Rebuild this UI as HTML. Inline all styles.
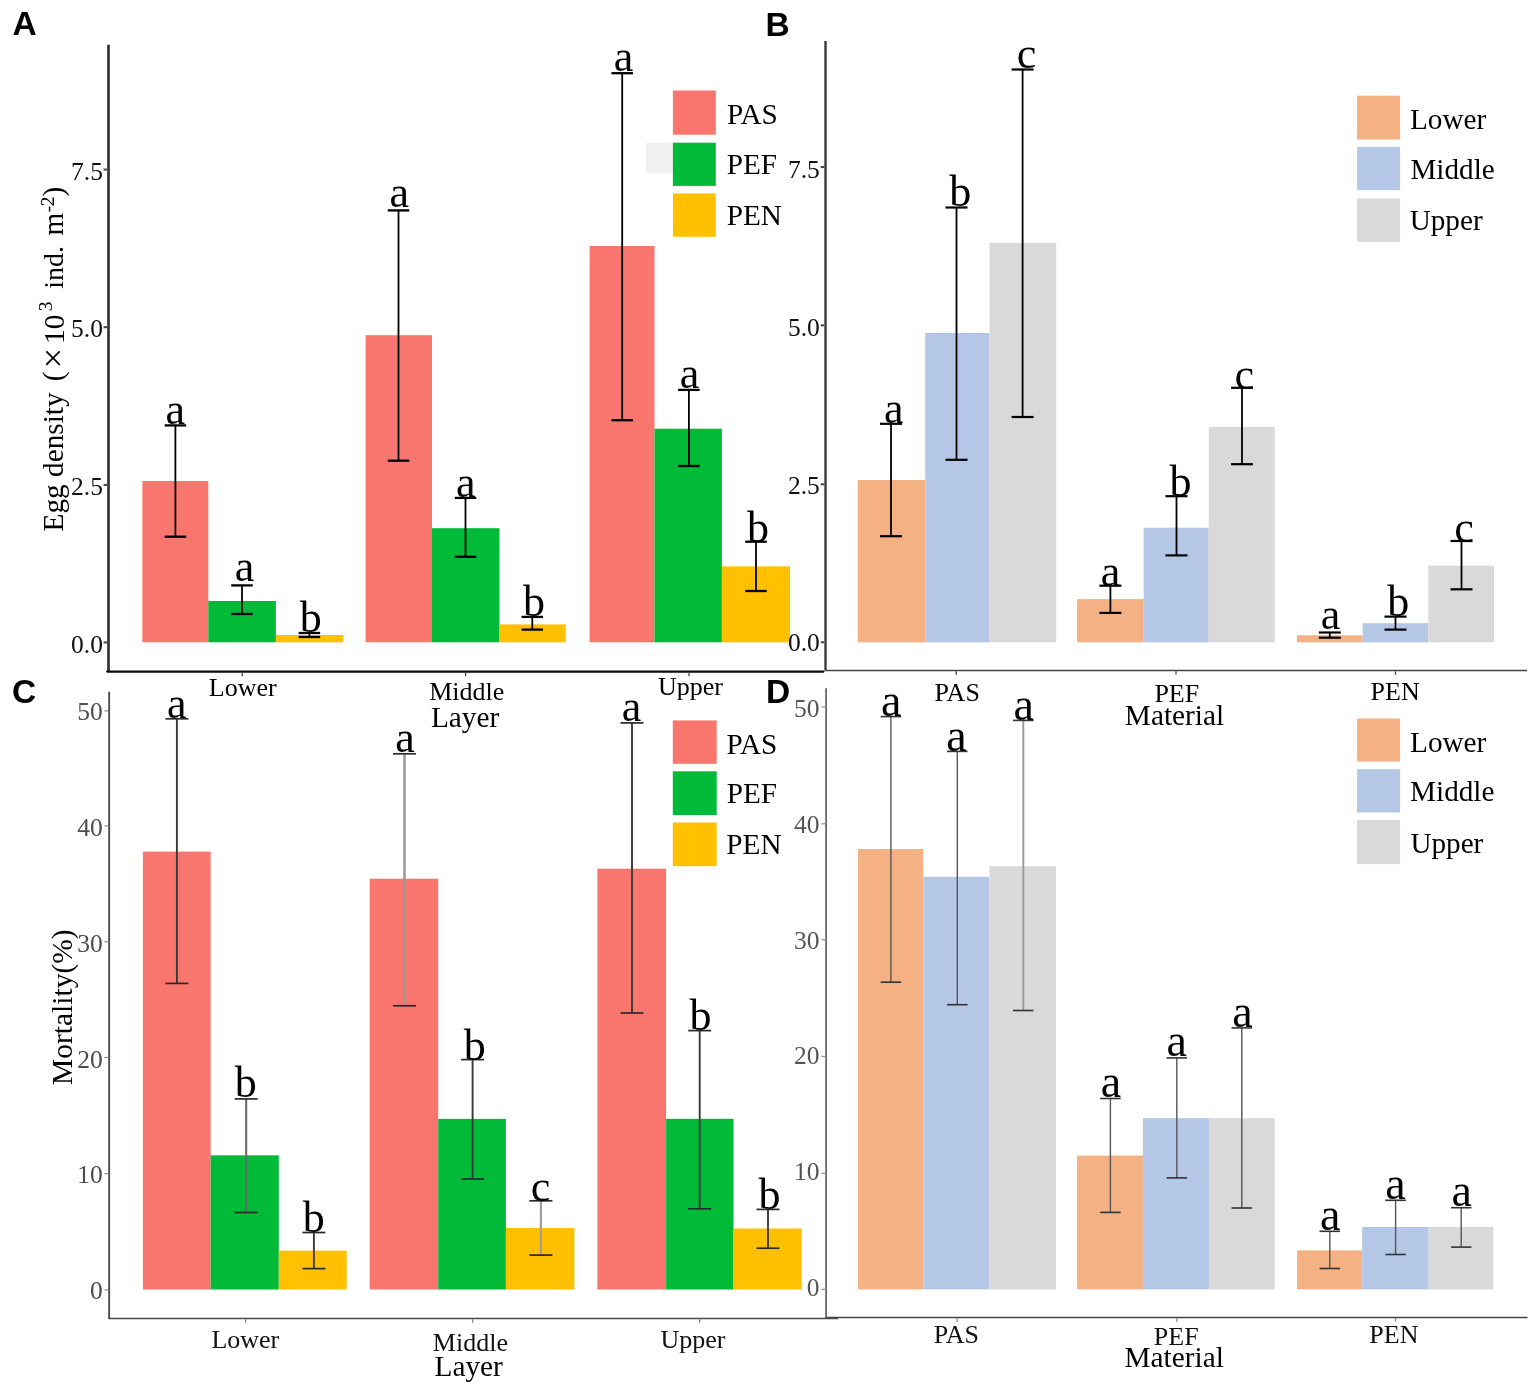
<!DOCTYPE html>
<html><head><meta charset="utf-8"><title>Egg density and mortality</title>
<style>
html,body{margin:0;padding:0;background:#fff;}
body{width:1535px;height:1388px;overflow:hidden;}
svg{display:block;}
text{font-kerning:normal;}
</style></head>
<body>
<svg width="1535" height="1388" viewBox="0 0 1535 1388">
<rect x="0" y="0" width="1535" height="1388" fill="#fff"/>
<rect x="142.40" y="481.00" width="65.90" height="161.30" fill="#F8766D"/>
<rect x="208.30" y="601.00" width="67.60" height="41.30" fill="#00BA38"/>
<rect x="275.90" y="635.00" width="67.50" height="7.30" fill="#FFC000"/>
<rect x="365.60" y="335.20" width="66.40" height="307.10" fill="#F8766D"/>
<rect x="432.00" y="528.20" width="67.50" height="114.10" fill="#00BA38"/>
<rect x="499.50" y="624.40" width="66.30" height="17.90" fill="#FFC000"/>
<rect x="589.60" y="246.00" width="64.90" height="396.30" fill="#F8766D"/>
<rect x="654.50" y="428.70" width="67.40" height="213.60" fill="#00BA38"/>
<rect x="721.90" y="566.40" width="68.10" height="75.90" fill="#FFC000"/>
<rect x="857.80" y="480.00" width="67.40" height="162.30" fill="#F4B183"/>
<rect x="925.20" y="333.00" width="64.30" height="309.30" fill="#B4C7E7"/>
<rect x="989.50" y="242.80" width="66.70" height="399.50" fill="#D9D9D9"/>
<rect x="1077.10" y="599.10" width="66.60" height="43.20" fill="#F4B183"/>
<rect x="1143.70" y="527.70" width="65.00" height="114.60" fill="#B4C7E7"/>
<rect x="1208.70" y="426.90" width="66.10" height="215.40" fill="#D9D9D9"/>
<rect x="1296.90" y="635.30" width="65.70" height="7.00" fill="#F4B183"/>
<rect x="1362.60" y="623.20" width="65.70" height="19.10" fill="#B4C7E7"/>
<rect x="1428.30" y="565.60" width="65.70" height="76.70" fill="#D9D9D9"/>
<rect x="142.90" y="851.60" width="67.75" height="437.90" fill="#F8766D"/>
<rect x="210.65" y="1155.30" width="68.15" height="134.20" fill="#00BA38"/>
<rect x="278.80" y="1250.60" width="67.90" height="38.90" fill="#FFC000"/>
<rect x="369.70" y="878.70" width="68.55" height="410.80" fill="#F8766D"/>
<rect x="438.25" y="1118.90" width="67.65" height="170.60" fill="#00BA38"/>
<rect x="505.90" y="1228.00" width="68.50" height="61.50" fill="#FFC000"/>
<rect x="597.40" y="868.70" width="68.70" height="420.80" fill="#F8766D"/>
<rect x="666.10" y="1118.80" width="67.40" height="170.70" fill="#00BA38"/>
<rect x="733.50" y="1228.50" width="68.30" height="61.00" fill="#FFC000"/>
<rect x="858.00" y="849.00" width="65.30" height="440.40" fill="#F4B183"/>
<rect x="923.30" y="876.80" width="66.20" height="412.60" fill="#B4C7E7"/>
<rect x="989.50" y="866.20" width="66.50" height="423.20" fill="#D9D9D9"/>
<rect x="1077.10" y="1155.60" width="65.80" height="133.80" fill="#F4B183"/>
<rect x="1142.90" y="1118.20" width="66.20" height="171.20" fill="#B4C7E7"/>
<rect x="1209.10" y="1118.20" width="65.60" height="171.20" fill="#D9D9D9"/>
<rect x="1297.10" y="1250.40" width="65.10" height="39.00" fill="#F4B183"/>
<rect x="1362.20" y="1227.00" width="66.50" height="62.40" fill="#B4C7E7"/>
<rect x="1428.70" y="1227.00" width="64.70" height="62.40" fill="#D9D9D9"/>
<line x1="175.40" y1="425.40" x2="175.40" y2="536.70" stroke="#000" stroke-width="1.8" stroke-linecap="butt"/>
<line x1="164.65" y1="425.40" x2="186.15" y2="425.40" stroke="#000" stroke-width="2.3" stroke-linecap="butt"/>
<line x1="164.65" y1="536.70" x2="186.15" y2="536.70" stroke="#000" stroke-width="2.3" stroke-linecap="butt"/>
<text x="165.40" y="423.77" font-family="'Liberation Serif','Times New Roman',serif" font-size="44" fill="#000" text-anchor="start" font-weight="normal">a</text>
<line x1="242.00" y1="585.40" x2="242.00" y2="614.00" stroke="#000" stroke-width="1.8" stroke-linecap="butt"/>
<line x1="231.25" y1="585.40" x2="252.75" y2="585.40" stroke="#000" stroke-width="2.3" stroke-linecap="butt"/>
<line x1="231.25" y1="614.00" x2="252.75" y2="614.00" stroke="#000" stroke-width="2.3" stroke-linecap="butt"/>
<text x="234.75" y="581.02" font-family="'Liberation Serif','Times New Roman',serif" font-size="44" fill="#000" text-anchor="start" font-weight="normal">a</text>
<line x1="309.40" y1="633.00" x2="309.40" y2="637.00" stroke="#000" stroke-width="1.8" stroke-linecap="butt"/>
<line x1="298.65" y1="633.00" x2="320.15" y2="633.00" stroke="#000" stroke-width="2.3" stroke-linecap="butt"/>
<line x1="298.65" y1="637.00" x2="320.15" y2="637.00" stroke="#000" stroke-width="2.3" stroke-linecap="butt"/>
<text x="299.81" y="631.96" font-family="'Liberation Serif','Times New Roman',serif" font-size="44" fill="#000" text-anchor="start" font-weight="normal">b</text>
<line x1="398.50" y1="210.40" x2="398.50" y2="460.70" stroke="#000" stroke-width="1.8" stroke-linecap="butt"/>
<line x1="387.75" y1="210.40" x2="409.25" y2="210.40" stroke="#000" stroke-width="2.3" stroke-linecap="butt"/>
<line x1="387.75" y1="460.70" x2="409.25" y2="460.70" stroke="#000" stroke-width="2.3" stroke-linecap="butt"/>
<text x="389.55" y="207.32" font-family="'Liberation Serif','Times New Roman',serif" font-size="44" fill="#000" text-anchor="start" font-weight="normal">a</text>
<line x1="465.50" y1="497.90" x2="465.50" y2="556.80" stroke="#000" stroke-width="1.8" stroke-linecap="butt"/>
<line x1="454.75" y1="497.90" x2="476.25" y2="497.90" stroke="#000" stroke-width="2.3" stroke-linecap="butt"/>
<line x1="454.75" y1="556.80" x2="476.25" y2="556.80" stroke="#000" stroke-width="2.3" stroke-linecap="butt"/>
<text x="456.05" y="496.62" font-family="'Liberation Serif','Times New Roman',serif" font-size="44" fill="#000" text-anchor="start" font-weight="normal">a</text>
<line x1="532.30" y1="616.90" x2="532.30" y2="629.60" stroke="#000" stroke-width="1.8" stroke-linecap="butt"/>
<line x1="521.55" y1="616.90" x2="543.05" y2="616.90" stroke="#000" stroke-width="2.3" stroke-linecap="butt"/>
<line x1="521.55" y1="629.60" x2="543.05" y2="629.60" stroke="#000" stroke-width="2.3" stroke-linecap="butt"/>
<text x="523.11" y="615.81" font-family="'Liberation Serif','Times New Roman',serif" font-size="44" fill="#000" text-anchor="start" font-weight="normal">b</text>
<line x1="622.20" y1="73.20" x2="622.20" y2="420.20" stroke="#000" stroke-width="1.8" stroke-linecap="butt"/>
<line x1="611.45" y1="73.20" x2="632.95" y2="73.20" stroke="#000" stroke-width="2.3" stroke-linecap="butt"/>
<line x1="611.45" y1="420.20" x2="632.95" y2="420.20" stroke="#000" stroke-width="2.3" stroke-linecap="butt"/>
<text x="613.65" y="71.03" font-family="'Liberation Serif','Times New Roman',serif" font-size="44" fill="#000" text-anchor="start" font-weight="normal">a</text>
<line x1="688.90" y1="389.90" x2="688.90" y2="466.00" stroke="#000" stroke-width="1.8" stroke-linecap="butt"/>
<line x1="678.15" y1="389.90" x2="699.65" y2="389.90" stroke="#000" stroke-width="2.3" stroke-linecap="butt"/>
<line x1="678.15" y1="466.00" x2="699.65" y2="466.00" stroke="#000" stroke-width="2.3" stroke-linecap="butt"/>
<text x="679.75" y="388.23" font-family="'Liberation Serif','Times New Roman',serif" font-size="44" fill="#000" text-anchor="start" font-weight="normal">a</text>
<line x1="756.00" y1="541.70" x2="756.00" y2="591.00" stroke="#000" stroke-width="1.8" stroke-linecap="butt"/>
<line x1="745.25" y1="541.70" x2="766.75" y2="541.70" stroke="#000" stroke-width="2.3" stroke-linecap="butt"/>
<line x1="745.25" y1="591.00" x2="766.75" y2="591.00" stroke="#000" stroke-width="2.3" stroke-linecap="butt"/>
<text x="746.91" y="541.61" font-family="'Liberation Serif','Times New Roman',serif" font-size="44" fill="#000" text-anchor="start" font-weight="normal">b</text>
<line x1="891.00" y1="423.80" x2="891.00" y2="536.20" stroke="#000" stroke-width="1.8" stroke-linecap="butt"/>
<line x1="880.00" y1="423.80" x2="902.00" y2="423.80" stroke="#000" stroke-width="2.2" stroke-linecap="butt"/>
<line x1="880.00" y1="536.20" x2="902.00" y2="536.20" stroke="#000" stroke-width="2.2" stroke-linecap="butt"/>
<text x="883.95" y="423.38" font-family="'Liberation Serif','Times New Roman',serif" font-size="44" fill="#000" text-anchor="start" font-weight="normal">a</text>
<line x1="956.50" y1="207.50" x2="956.50" y2="459.80" stroke="#000" stroke-width="1.8" stroke-linecap="butt"/>
<line x1="945.50" y1="207.50" x2="967.50" y2="207.50" stroke="#000" stroke-width="2.2" stroke-linecap="butt"/>
<line x1="945.50" y1="459.80" x2="967.50" y2="459.80" stroke="#000" stroke-width="2.2" stroke-linecap="butt"/>
<text x="949.21" y="206.26" font-family="'Liberation Serif','Times New Roman',serif" font-size="44" fill="#000" text-anchor="start" font-weight="normal">b</text>
<line x1="1022.60" y1="69.50" x2="1022.60" y2="417.00" stroke="#000" stroke-width="1.8" stroke-linecap="butt"/>
<line x1="1011.60" y1="69.50" x2="1033.60" y2="69.50" stroke="#000" stroke-width="2.2" stroke-linecap="butt"/>
<line x1="1011.60" y1="417.00" x2="1033.60" y2="417.00" stroke="#000" stroke-width="2.2" stroke-linecap="butt"/>
<text x="1016.76" y="68.44" font-family="'Liberation Serif','Times New Roman',serif" font-size="44" fill="#000" text-anchor="start" font-weight="normal">c</text>
<line x1="1110.40" y1="585.70" x2="1110.40" y2="612.90" stroke="#000" stroke-width="1.8" stroke-linecap="butt"/>
<line x1="1099.40" y1="585.70" x2="1121.40" y2="585.70" stroke="#000" stroke-width="2.2" stroke-linecap="butt"/>
<line x1="1099.40" y1="612.90" x2="1121.40" y2="612.90" stroke="#000" stroke-width="2.2" stroke-linecap="butt"/>
<text x="1100.75" y="586.38" font-family="'Liberation Serif','Times New Roman',serif" font-size="44" fill="#000" text-anchor="start" font-weight="normal">a</text>
<line x1="1176.50" y1="496.20" x2="1176.50" y2="555.40" stroke="#000" stroke-width="1.8" stroke-linecap="butt"/>
<line x1="1165.50" y1="496.20" x2="1187.50" y2="496.20" stroke="#000" stroke-width="2.2" stroke-linecap="butt"/>
<line x1="1165.50" y1="555.40" x2="1187.50" y2="555.40" stroke="#000" stroke-width="2.2" stroke-linecap="butt"/>
<text x="1169.51" y="495.80" font-family="'Liberation Serif','Times New Roman',serif" font-size="44" fill="#000" text-anchor="start" font-weight="normal">b</text>
<line x1="1242.00" y1="387.80" x2="1242.00" y2="464.20" stroke="#000" stroke-width="1.8" stroke-linecap="butt"/>
<line x1="1231.00" y1="387.80" x2="1253.00" y2="387.80" stroke="#000" stroke-width="2.2" stroke-linecap="butt"/>
<line x1="1231.00" y1="464.20" x2="1253.00" y2="464.20" stroke="#000" stroke-width="2.2" stroke-linecap="butt"/>
<text x="1234.56" y="388.94" font-family="'Liberation Serif','Times New Roman',serif" font-size="44" fill="#000" text-anchor="start" font-weight="normal">c</text>
<line x1="1329.80" y1="632.50" x2="1329.80" y2="637.70" stroke="#000" stroke-width="1.8" stroke-linecap="butt"/>
<line x1="1318.80" y1="632.50" x2="1340.80" y2="632.50" stroke="#000" stroke-width="2.2" stroke-linecap="butt"/>
<line x1="1318.80" y1="637.70" x2="1340.80" y2="637.70" stroke="#000" stroke-width="2.2" stroke-linecap="butt"/>
<text x="1320.75" y="629.27" font-family="'Liberation Serif','Times New Roman',serif" font-size="44" fill="#000" text-anchor="start" font-weight="normal">a</text>
<line x1="1395.50" y1="616.60" x2="1395.50" y2="629.60" stroke="#000" stroke-width="1.8" stroke-linecap="butt"/>
<line x1="1384.50" y1="616.60" x2="1406.50" y2="616.60" stroke="#000" stroke-width="2.2" stroke-linecap="butt"/>
<line x1="1384.50" y1="629.60" x2="1406.50" y2="629.60" stroke="#000" stroke-width="2.2" stroke-linecap="butt"/>
<text x="1387.31" y="616.11" font-family="'Liberation Serif','Times New Roman',serif" font-size="44" fill="#000" text-anchor="start" font-weight="normal">b</text>
<line x1="1461.50" y1="541.00" x2="1461.50" y2="589.30" stroke="#000" stroke-width="1.8" stroke-linecap="butt"/>
<line x1="1450.50" y1="541.00" x2="1472.50" y2="541.00" stroke="#000" stroke-width="2.2" stroke-linecap="butt"/>
<line x1="1450.50" y1="589.30" x2="1472.50" y2="589.30" stroke="#000" stroke-width="2.2" stroke-linecap="butt"/>
<text x="1454.26" y="541.74" font-family="'Liberation Serif','Times New Roman',serif" font-size="44" fill="#000" text-anchor="start" font-weight="normal">c</text>
<line x1="176.90" y1="718.80" x2="176.90" y2="983.40" stroke="#3a3a3a" stroke-width="1.9" stroke-linecap="butt"/>
<line x1="165.40" y1="718.80" x2="188.40" y2="718.80" stroke="#2a2a2a" stroke-width="1.7" stroke-linecap="butt"/>
<line x1="165.40" y1="983.40" x2="188.40" y2="983.40" stroke="#2a2a2a" stroke-width="1.7" stroke-linecap="butt"/>
<text x="167.10" y="717.83" font-family="'Liberation Serif','Times New Roman',serif" font-size="44" fill="#000" text-anchor="start" font-weight="normal">a</text>
<line x1="246.20" y1="1098.90" x2="246.20" y2="1212.50" stroke="#666" stroke-width="2.0" stroke-linecap="butt"/>
<line x1="234.70" y1="1098.90" x2="257.70" y2="1098.90" stroke="#2a2a2a" stroke-width="1.7" stroke-linecap="butt"/>
<line x1="234.70" y1="1212.50" x2="257.70" y2="1212.50" stroke="#2a2a2a" stroke-width="1.7" stroke-linecap="butt"/>
<text x="234.81" y="1097.06" font-family="'Liberation Serif','Times New Roman',serif" font-size="44" fill="#000" text-anchor="start" font-weight="normal">b</text>
<line x1="313.90" y1="1232.50" x2="313.90" y2="1268.60" stroke="#3a3a3a" stroke-width="1.9" stroke-linecap="butt"/>
<line x1="302.40" y1="1232.50" x2="325.40" y2="1232.50" stroke="#2a2a2a" stroke-width="1.7" stroke-linecap="butt"/>
<line x1="302.40" y1="1268.60" x2="325.40" y2="1268.60" stroke="#2a2a2a" stroke-width="1.7" stroke-linecap="butt"/>
<text x="302.71" y="1232.31" font-family="'Liberation Serif','Times New Roman',serif" font-size="44" fill="#000" text-anchor="start" font-weight="normal">b</text>
<line x1="404.50" y1="753.80" x2="404.50" y2="1005.80" stroke="#9a9a9a" stroke-width="2.6" stroke-linecap="butt"/>
<line x1="393.00" y1="753.80" x2="416.00" y2="753.80" stroke="#2a2a2a" stroke-width="1.7" stroke-linecap="butt"/>
<line x1="393.00" y1="1005.80" x2="416.00" y2="1005.80" stroke="#2a2a2a" stroke-width="1.7" stroke-linecap="butt"/>
<text x="395.25" y="752.12" font-family="'Liberation Serif','Times New Roman',serif" font-size="44" fill="#000" text-anchor="start" font-weight="normal">a</text>
<line x1="472.60" y1="1059.60" x2="472.60" y2="1179.00" stroke="#3a3a3a" stroke-width="1.9" stroke-linecap="butt"/>
<line x1="461.10" y1="1059.60" x2="484.10" y2="1059.60" stroke="#2a2a2a" stroke-width="1.7" stroke-linecap="butt"/>
<line x1="461.10" y1="1179.00" x2="484.10" y2="1179.00" stroke="#2a2a2a" stroke-width="1.7" stroke-linecap="butt"/>
<text x="463.81" y="1059.61" font-family="'Liberation Serif','Times New Roman',serif" font-size="44" fill="#000" text-anchor="start" font-weight="normal">b</text>
<line x1="540.90" y1="1200.80" x2="540.90" y2="1255.10" stroke="#9f9f9f" stroke-width="2.2" stroke-linecap="butt"/>
<line x1="529.40" y1="1200.80" x2="552.40" y2="1200.80" stroke="#2a2a2a" stroke-width="1.7" stroke-linecap="butt"/>
<line x1="529.40" y1="1255.10" x2="552.40" y2="1255.10" stroke="#2a2a2a" stroke-width="1.7" stroke-linecap="butt"/>
<text x="530.71" y="1201.04" font-family="'Liberation Serif','Times New Roman',serif" font-size="44" fill="#000" text-anchor="start" font-weight="normal">c</text>
<line x1="632.00" y1="722.90" x2="632.00" y2="1013.00" stroke="#3a3a3a" stroke-width="1.9" stroke-linecap="butt"/>
<line x1="620.50" y1="722.90" x2="643.50" y2="722.90" stroke="#2a2a2a" stroke-width="1.7" stroke-linecap="butt"/>
<line x1="620.50" y1="1013.00" x2="643.50" y2="1013.00" stroke="#2a2a2a" stroke-width="1.7" stroke-linecap="butt"/>
<text x="621.65" y="721.03" font-family="'Liberation Serif','Times New Roman',serif" font-size="44" fill="#000" text-anchor="start" font-weight="normal">a</text>
<line x1="699.70" y1="1030.60" x2="699.70" y2="1208.80" stroke="#3a3a3a" stroke-width="1.9" stroke-linecap="butt"/>
<line x1="688.20" y1="1030.60" x2="711.20" y2="1030.60" stroke="#2a2a2a" stroke-width="1.7" stroke-linecap="butt"/>
<line x1="688.20" y1="1208.80" x2="711.20" y2="1208.80" stroke="#2a2a2a" stroke-width="1.7" stroke-linecap="butt"/>
<text x="689.61" y="1029.91" font-family="'Liberation Serif','Times New Roman',serif" font-size="44" fill="#000" text-anchor="start" font-weight="normal">b</text>
<line x1="768.00" y1="1209.40" x2="768.00" y2="1248.20" stroke="#3a3a3a" stroke-width="1.9" stroke-linecap="butt"/>
<line x1="756.50" y1="1209.40" x2="779.50" y2="1209.40" stroke="#2a2a2a" stroke-width="1.7" stroke-linecap="butt"/>
<line x1="756.50" y1="1248.20" x2="779.50" y2="1248.20" stroke="#2a2a2a" stroke-width="1.7" stroke-linecap="butt"/>
<text x="758.51" y="1209.01" font-family="'Liberation Serif','Times New Roman',serif" font-size="44" fill="#000" text-anchor="start" font-weight="normal">b</text>
<line x1="890.90" y1="716.60" x2="890.90" y2="982.20" stroke="#555" stroke-width="1.4" stroke-linecap="butt"/>
<line x1="880.65" y1="716.60" x2="901.15" y2="716.60" stroke="#333" stroke-width="1.6" stroke-linecap="butt"/>
<line x1="880.65" y1="982.20" x2="901.15" y2="982.20" stroke="#333" stroke-width="1.6" stroke-linecap="butt"/>
<text x="881.01" y="716.41" font-family="'Liberation Serif','Times New Roman',serif" font-size="46" fill="#000" text-anchor="start" font-weight="normal">a</text>
<line x1="957.30" y1="751.40" x2="957.30" y2="1004.70" stroke="#555" stroke-width="1.4" stroke-linecap="butt"/>
<line x1="947.05" y1="751.40" x2="967.55" y2="751.40" stroke="#333" stroke-width="1.6" stroke-linecap="butt"/>
<line x1="947.05" y1="1004.70" x2="967.55" y2="1004.70" stroke="#333" stroke-width="1.6" stroke-linecap="butt"/>
<text x="946.31" y="750.86" font-family="'Liberation Serif','Times New Roman',serif" font-size="46" fill="#000" text-anchor="start" font-weight="normal">a</text>
<line x1="1023.30" y1="720.40" x2="1023.30" y2="1010.50" stroke="#9a9a9a" stroke-width="1.9" stroke-linecap="butt"/>
<line x1="1013.05" y1="720.40" x2="1033.55" y2="720.40" stroke="#333" stroke-width="1.6" stroke-linecap="butt"/>
<line x1="1013.05" y1="1010.50" x2="1033.55" y2="1010.50" stroke="#333" stroke-width="1.6" stroke-linecap="butt"/>
<text x="1013.51" y="719.86" font-family="'Liberation Serif','Times New Roman',serif" font-size="46" fill="#000" text-anchor="start" font-weight="normal">a</text>
<line x1="1110.40" y1="1098.50" x2="1110.40" y2="1212.40" stroke="#555" stroke-width="1.4" stroke-linecap="butt"/>
<line x1="1100.15" y1="1098.50" x2="1120.65" y2="1098.50" stroke="#333" stroke-width="1.6" stroke-linecap="butt"/>
<line x1="1100.15" y1="1212.40" x2="1120.65" y2="1212.40" stroke="#333" stroke-width="1.6" stroke-linecap="butt"/>
<text x="1100.71" y="1096.51" font-family="'Liberation Serif','Times New Roman',serif" font-size="46" fill="#000" text-anchor="start" font-weight="normal">a</text>
<line x1="1176.80" y1="1057.90" x2="1176.80" y2="1177.90" stroke="#555" stroke-width="1.4" stroke-linecap="butt"/>
<line x1="1166.55" y1="1057.90" x2="1187.05" y2="1057.90" stroke="#333" stroke-width="1.6" stroke-linecap="butt"/>
<line x1="1166.55" y1="1177.90" x2="1187.05" y2="1177.90" stroke="#333" stroke-width="1.6" stroke-linecap="butt"/>
<text x="1166.61" y="1055.81" font-family="'Liberation Serif','Times New Roman',serif" font-size="46" fill="#000" text-anchor="start" font-weight="normal">a</text>
<line x1="1241.80" y1="1027.90" x2="1241.80" y2="1208.00" stroke="#555" stroke-width="1.4" stroke-linecap="butt"/>
<line x1="1231.55" y1="1027.90" x2="1252.05" y2="1027.90" stroke="#333" stroke-width="1.6" stroke-linecap="butt"/>
<line x1="1231.55" y1="1208.00" x2="1252.05" y2="1208.00" stroke="#333" stroke-width="1.6" stroke-linecap="butt"/>
<text x="1232.31" y="1026.81" font-family="'Liberation Serif','Times New Roman',serif" font-size="46" fill="#000" text-anchor="start" font-weight="normal">a</text>
<line x1="1329.80" y1="1231.30" x2="1329.80" y2="1268.50" stroke="#555" stroke-width="1.4" stroke-linecap="butt"/>
<line x1="1319.55" y1="1231.30" x2="1340.05" y2="1231.30" stroke="#333" stroke-width="1.6" stroke-linecap="butt"/>
<line x1="1319.55" y1="1268.50" x2="1340.05" y2="1268.50" stroke="#333" stroke-width="1.6" stroke-linecap="butt"/>
<text x="1320.01" y="1230.11" font-family="'Liberation Serif','Times New Roman',serif" font-size="46" fill="#000" text-anchor="start" font-weight="normal">a</text>
<line x1="1395.60" y1="1200.30" x2="1395.60" y2="1254.50" stroke="#555" stroke-width="1.4" stroke-linecap="butt"/>
<line x1="1385.35" y1="1200.30" x2="1405.85" y2="1200.30" stroke="#333" stroke-width="1.6" stroke-linecap="butt"/>
<line x1="1385.35" y1="1254.50" x2="1405.85" y2="1254.50" stroke="#333" stroke-width="1.6" stroke-linecap="butt"/>
<text x="1385.21" y="1199.41" font-family="'Liberation Serif','Times New Roman',serif" font-size="46" fill="#000" text-anchor="start" font-weight="normal">a</text>
<line x1="1461.20" y1="1207.70" x2="1461.20" y2="1247.10" stroke="#555" stroke-width="1.4" stroke-linecap="butt"/>
<line x1="1450.95" y1="1207.70" x2="1471.45" y2="1207.70" stroke="#333" stroke-width="1.6" stroke-linecap="butt"/>
<line x1="1450.95" y1="1247.10" x2="1471.45" y2="1247.10" stroke="#333" stroke-width="1.6" stroke-linecap="butt"/>
<text x="1451.51" y="1205.81" font-family="'Liberation Serif','Times New Roman',serif" font-size="46" fill="#000" text-anchor="start" font-weight="normal">a</text>
<line x1="108.50" y1="44.70" x2="108.50" y2="671.60" stroke="#333" stroke-width="2.7" stroke-linecap="butt"/>
<line x1="107.20" y1="671.60" x2="823.40" y2="671.60" stroke="#0a0a0a" stroke-width="2.3" stroke-linecap="round"/>
<line x1="103.55" y1="642.40" x2="107.15" y2="642.40" stroke="#444" stroke-width="2.0" stroke-linecap="butt"/>
<text x="71.12" y="652.51" font-family="'Liberation Serif','Times New Roman',serif" font-size="25.5" fill="#111" text-anchor="start" font-weight="normal">0.0</text>
<line x1="103.55" y1="484.90" x2="107.15" y2="484.90" stroke="#444" stroke-width="2.0" stroke-linecap="butt"/>
<text x="71.12" y="494.95" font-family="'Liberation Serif','Times New Roman',serif" font-size="25.5" fill="#111" text-anchor="start" font-weight="normal">2.5</text>
<line x1="103.55" y1="327.20" x2="107.15" y2="327.20" stroke="#444" stroke-width="2.0" stroke-linecap="butt"/>
<text x="71.12" y="337.31" font-family="'Liberation Serif','Times New Roman',serif" font-size="25.5" fill="#111" text-anchor="start" font-weight="normal">5.0</text>
<line x1="103.55" y1="169.60" x2="107.15" y2="169.60" stroke="#444" stroke-width="2.0" stroke-linecap="butt"/>
<text x="71.12" y="179.59" font-family="'Liberation Serif','Times New Roman',serif" font-size="25.5" fill="#111" text-anchor="start" font-weight="normal">7.5</text>
<line x1="242.20" y1="672.75" x2="242.20" y2="676.25" stroke="#444" stroke-width="1.3" stroke-linecap="butt"/>
<line x1="465.60" y1="672.75" x2="465.60" y2="676.25" stroke="#444" stroke-width="1.3" stroke-linecap="butt"/>
<line x1="689.00" y1="672.75" x2="689.00" y2="676.25" stroke="#444" stroke-width="1.3" stroke-linecap="butt"/>
<line x1="825.50" y1="41.10" x2="825.50" y2="670.50" stroke="#333" stroke-width="2.3" stroke-linecap="butt"/>
<line x1="825.00" y1="670.50" x2="1527.00" y2="670.50" stroke="#444" stroke-width="1.7" stroke-linecap="butt"/>
<line x1="820.75" y1="642.30" x2="824.35" y2="642.30" stroke="#444" stroke-width="2.0" stroke-linecap="butt"/>
<text x="787.92" y="650.91" font-family="'Liberation Serif','Times New Roman',serif" font-size="25.5" fill="#111" text-anchor="start" font-weight="normal">0.0</text>
<line x1="820.75" y1="484.30" x2="824.35" y2="484.30" stroke="#444" stroke-width="2.0" stroke-linecap="butt"/>
<text x="787.92" y="494.25" font-family="'Liberation Serif','Times New Roman',serif" font-size="25.5" fill="#111" text-anchor="start" font-weight="normal">2.5</text>
<line x1="820.75" y1="325.40" x2="824.35" y2="325.40" stroke="#444" stroke-width="2.0" stroke-linecap="butt"/>
<text x="787.92" y="336.21" font-family="'Liberation Serif','Times New Roman',serif" font-size="25.5" fill="#111" text-anchor="start" font-weight="normal">5.0</text>
<line x1="820.75" y1="167.00" x2="824.35" y2="167.00" stroke="#444" stroke-width="2.0" stroke-linecap="butt"/>
<text x="787.92" y="177.89" font-family="'Liberation Serif','Times New Roman',serif" font-size="25.5" fill="#111" text-anchor="start" font-weight="normal">7.5</text>
<line x1="956.20" y1="671.35" x2="956.20" y2="674.85" stroke="#444" stroke-width="1.3" stroke-linecap="butt"/>
<line x1="1176.00" y1="671.35" x2="1176.00" y2="674.85" stroke="#444" stroke-width="1.3" stroke-linecap="butt"/>
<line x1="1395.50" y1="671.35" x2="1395.50" y2="674.85" stroke="#444" stroke-width="1.3" stroke-linecap="butt"/>
<line x1="109.15" y1="691.80" x2="109.15" y2="1318.50" stroke="#4d4d4d" stroke-width="1.9" stroke-linecap="butt"/>
<line x1="108.20" y1="1318.50" x2="838.00" y2="1318.50" stroke="#4a4a4a" stroke-width="1.4" stroke-linecap="butt"/>
<line x1="104.40" y1="1289.90" x2="108.20" y2="1289.90" stroke="#888" stroke-width="1.1" stroke-linecap="butt"/>
<text x="90.05" y="1299.12" font-family="'Liberation Serif','Times New Roman',serif" font-size="25.5" fill="#4d4d4d" text-anchor="start" font-weight="normal">0</text>
<line x1="104.40" y1="1173.60" x2="108.20" y2="1173.60" stroke="#888" stroke-width="1.1" stroke-linecap="butt"/>
<text x="77.30" y="1183.37" font-family="'Liberation Serif','Times New Roman',serif" font-size="25.5" fill="#4d4d4d" text-anchor="start" font-weight="normal">10</text>
<line x1="104.40" y1="1057.50" x2="108.20" y2="1057.50" stroke="#888" stroke-width="1.1" stroke-linecap="butt"/>
<text x="77.30" y="1067.61" font-family="'Liberation Serif','Times New Roman',serif" font-size="25.5" fill="#4d4d4d" text-anchor="start" font-weight="normal">20</text>
<line x1="104.40" y1="941.80" x2="108.20" y2="941.80" stroke="#888" stroke-width="1.1" stroke-linecap="butt"/>
<text x="77.30" y="951.85" font-family="'Liberation Serif','Times New Roman',serif" font-size="25.5" fill="#4d4d4d" text-anchor="start" font-weight="normal">30</text>
<line x1="104.40" y1="825.90" x2="108.20" y2="825.90" stroke="#888" stroke-width="1.1" stroke-linecap="butt"/>
<text x="77.30" y="836.09" font-family="'Liberation Serif','Times New Roman',serif" font-size="25.5" fill="#4d4d4d" text-anchor="start" font-weight="normal">40</text>
<line x1="104.40" y1="710.90" x2="108.20" y2="710.90" stroke="#888" stroke-width="1.1" stroke-linecap="butt"/>
<text x="77.30" y="720.32" font-family="'Liberation Serif','Times New Roman',serif" font-size="25.5" fill="#4d4d4d" text-anchor="start" font-weight="normal">50</text>
<line x1="245.60" y1="1319.20" x2="245.60" y2="1322.70" stroke="#888" stroke-width="1.3" stroke-linecap="butt"/>
<line x1="472.60" y1="1319.20" x2="472.60" y2="1322.70" stroke="#888" stroke-width="1.3" stroke-linecap="butt"/>
<line x1="699.70" y1="1319.20" x2="699.70" y2="1322.70" stroke="#888" stroke-width="1.3" stroke-linecap="butt"/>
<line x1="826.10" y1="688.20" x2="826.10" y2="1317.50" stroke="#6a6a6a" stroke-width="1.8" stroke-linecap="butt"/>
<line x1="825.20" y1="1317.50" x2="1527.60" y2="1317.50" stroke="#444" stroke-width="1.4" stroke-linecap="butt"/>
<line x1="821.40" y1="1289.40" x2="825.20" y2="1289.40" stroke="#888" stroke-width="1.1" stroke-linecap="butt"/>
<text x="806.85" y="1296.38" font-family="'Liberation Serif','Times New Roman',serif" font-size="25.5" fill="#555" text-anchor="start" font-weight="normal">0</text>
<line x1="821.40" y1="1173.40" x2="825.20" y2="1173.40" stroke="#888" stroke-width="1.1" stroke-linecap="butt"/>
<text x="794.10" y="1180.43" font-family="'Liberation Serif','Times New Roman',serif" font-size="25.5" fill="#555" text-anchor="start" font-weight="normal">10</text>
<line x1="821.40" y1="1056.40" x2="825.20" y2="1056.40" stroke="#888" stroke-width="1.1" stroke-linecap="butt"/>
<text x="794.10" y="1064.49" font-family="'Liberation Serif','Times New Roman',serif" font-size="25.5" fill="#555" text-anchor="start" font-weight="normal">20</text>
<line x1="821.40" y1="939.80" x2="825.20" y2="939.80" stroke="#888" stroke-width="1.1" stroke-linecap="butt"/>
<text x="794.10" y="948.56" font-family="'Liberation Serif','Times New Roman',serif" font-size="25.5" fill="#555" text-anchor="start" font-weight="normal">30</text>
<line x1="821.40" y1="823.80" x2="825.20" y2="823.80" stroke="#888" stroke-width="1.1" stroke-linecap="butt"/>
<text x="794.10" y="832.62" font-family="'Liberation Serif','Times New Roman',serif" font-size="25.5" fill="#555" text-anchor="start" font-weight="normal">40</text>
<line x1="821.40" y1="706.90" x2="825.20" y2="706.90" stroke="#888" stroke-width="1.1" stroke-linecap="butt"/>
<text x="794.10" y="716.68" font-family="'Liberation Serif','Times New Roman',serif" font-size="25.5" fill="#555" text-anchor="start" font-weight="normal">50</text>
<line x1="957.20" y1="1318.20" x2="957.20" y2="1321.70" stroke="#888" stroke-width="1.3" stroke-linecap="butt"/>
<line x1="1176.80" y1="1318.20" x2="1176.80" y2="1321.70" stroke="#888" stroke-width="1.3" stroke-linecap="butt"/>
<line x1="1395.60" y1="1318.20" x2="1395.60" y2="1321.70" stroke="#888" stroke-width="1.3" stroke-linecap="butt"/>
<text x="208.85" y="695.67" font-family="'Liberation Serif','Times New Roman',serif" font-size="26" fill="#000" text-anchor="start" font-weight="normal">Lower</text>
<text x="429.20" y="700.08" font-family="'Liberation Serif','Times New Roman',serif" font-size="26" fill="#000" text-anchor="start" font-weight="normal">Middle</text>
<text x="657.96" y="695.40" font-family="'Liberation Serif','Times New Roman',serif" font-size="26" fill="#000" text-anchor="start" font-weight="normal">Upper</text>
<text x="430.96" y="726.90" font-family="'Liberation Serif','Times New Roman',serif" font-size="29.3" fill="#000" text-anchor="start" font-weight="normal">Layer</text>
<text x="934.55" y="701.20" font-family="'Liberation Serif','Times New Roman',serif" font-size="26" fill="#000" text-anchor="start" font-weight="normal">PAS</text>
<text x="1154.39" y="702.20" font-family="'Liberation Serif','Times New Roman',serif" font-size="26" fill="#000" text-anchor="start" font-weight="normal">PEF</text>
<text x="1370.56" y="700.35" font-family="'Liberation Serif','Times New Roman',serif" font-size="26" fill="#000" text-anchor="start" font-weight="normal">PEN</text>
<text x="1124.86" y="725.20" font-family="'Liberation Serif','Times New Roman',serif" font-size="29.3" fill="#000" text-anchor="start" font-weight="normal">Material</text>
<text x="211.40" y="1347.72" font-family="'Liberation Serif','Times New Roman',serif" font-size="26" fill="#111" text-anchor="start" font-weight="normal">Lower</text>
<text x="432.85" y="1350.57" font-family="'Liberation Serif','Times New Roman',serif" font-size="26" fill="#111" text-anchor="start" font-weight="normal">Middle</text>
<text x="660.56" y="1347.50" font-family="'Liberation Serif','Times New Roman',serif" font-size="26" fill="#111" text-anchor="start" font-weight="normal">Upper</text>
<text x="434.51" y="1376.20" font-family="'Liberation Serif','Times New Roman',serif" font-size="29.3" fill="#000" text-anchor="start" font-weight="normal">Layer</text>
<text x="933.65" y="1343.10" font-family="'Liberation Serif','Times New Roman',serif" font-size="26" fill="#111" text-anchor="start" font-weight="normal">PAS</text>
<text x="1153.84" y="1345.00" font-family="'Liberation Serif','Times New Roman',serif" font-size="26" fill="#111" text-anchor="start" font-weight="normal">PEF</text>
<text x="1369.31" y="1342.95" font-family="'Liberation Serif','Times New Roman',serif" font-size="26" fill="#111" text-anchor="start" font-weight="normal">PEN</text>
<text x="1124.56" y="1367.25" font-family="'Liberation Serif','Times New Roman',serif" font-size="29.3" fill="#000" text-anchor="start" font-weight="normal">Material</text>
<g transform="translate(63.3,530.6) rotate(-90)">
<text x="-0.91" y="0.00" font-family="'Liberation Serif','Times New Roman',serif" font-size="29.3" fill="#000">Egg density</text>
<text x="149.45" y="0.00" font-family="'Liberation Serif','Times New Roman',serif" font-size="29.3" fill="#000">(</text>
<text x="162.31" y="1.30" font-family="'Liberation Serif','Times New Roman',serif" font-size="36" fill="#000">×</text>
<text x="186.69" y="0.60" font-family="'Liberation Serif','Times New Roman',serif" font-size="29.3" fill="#000">10</text>
<text x="219.31" y="-11.40" font-family="'Liberation Serif','Times New Roman',serif" font-size="19.5" fill="#000">3</text>
<text x="241.95" y="0.00" font-family="'Liberation Serif','Times New Roman',serif" font-size="28" fill="#000">ind.</text>
<text x="295.11" y="0.00" font-family="'Liberation Serif','Times New Roman',serif" font-size="29.3" fill="#000">m</text>
<text x="318.40" y="-9.50" font-family="'Liberation Serif','Times New Roman',serif" font-size="19.5" fill="#000">-</text>
<text x="324.25" y="-9.30" font-family="'Liberation Serif','Times New Roman',serif" font-size="19.5" fill="#000">2</text>
<text x="334.01" y="0.00" font-family="'Liberation Serif','Times New Roman',serif" font-size="29.3" fill="#000">)</text>
</g>
<g transform="translate(71.9,1085.2) rotate(-90)">
<text x="0.22" y="0.00" font-family="'Liberation Serif','Times New Roman',serif" font-size="29.5" fill="#000">Mortality(%)</text>
</g>
<rect x="645.7" y="143" width="27.2" height="30.3" fill="#f0f0f0"/>
<rect x="672.90" y="90.50" width="42.90" height="44.20" fill="#F8766D"/>
<text x="726.89" y="124.41" font-family="'Liberation Serif','Times New Roman',serif" font-size="29.2" fill="#000" text-anchor="start" font-weight="normal">PAS</text>
<rect x="672.90" y="142.70" width="42.90" height="43.20" fill="#00BA38"/>
<text x="726.73" y="173.71" font-family="'Liberation Serif','Times New Roman',serif" font-size="29.2" fill="#000" text-anchor="start" font-weight="normal">PEF</text>
<rect x="672.90" y="193.40" width="42.90" height="43.40" fill="#FFC000"/>
<text x="726.73" y="224.96" font-family="'Liberation Serif','Times New Roman',serif" font-size="29.2" fill="#000" text-anchor="start" font-weight="normal">PEN</text>
<rect x="1357.10" y="95.70" width="43.00" height="43.80" fill="#F4B183"/>
<text x="1410.00" y="129.44" font-family="'Liberation Serif','Times New Roman',serif" font-size="29.2" fill="#000" text-anchor="start" font-weight="normal">Lower</text>
<rect x="1357.10" y="146.90" width="43.00" height="43.30" fill="#B4C7E7"/>
<text x="1410.41" y="178.55" font-family="'Liberation Serif','Times New Roman',serif" font-size="29.2" fill="#000" text-anchor="start" font-weight="normal">Middle</text>
<rect x="1357.10" y="198.60" width="43.00" height="43.20" fill="#D9D9D9"/>
<text x="1409.70" y="230.20" font-family="'Liberation Serif','Times New Roman',serif" font-size="29.2" fill="#000" text-anchor="start" font-weight="normal">Upper</text>
<rect x="672.80" y="720.40" width="43.90" height="43.40" fill="#F8766D"/>
<text x="726.49" y="753.51" font-family="'Liberation Serif','Times New Roman',serif" font-size="29.2" fill="#000" text-anchor="start" font-weight="normal">PAS</text>
<rect x="672.80" y="771.30" width="43.90" height="43.70" fill="#00BA38"/>
<text x="726.73" y="803.46" font-family="'Liberation Serif','Times New Roman',serif" font-size="29.2" fill="#000" text-anchor="start" font-weight="normal">PEF</text>
<rect x="672.80" y="822.50" width="43.90" height="43.70" fill="#FFC000"/>
<text x="726.35" y="854.16" font-family="'Liberation Serif','Times New Roman',serif" font-size="29.2" fill="#000" text-anchor="start" font-weight="normal">PEN</text>
<rect x="1357.10" y="718.50" width="43.00" height="43.10" fill="#F4B183"/>
<text x="1410.12" y="751.94" font-family="'Liberation Serif','Times New Roman',serif" font-size="29.2" fill="#000" text-anchor="start" font-weight="normal">Lower</text>
<rect x="1357.10" y="769.10" width="43.00" height="43.40" fill="#B4C7E7"/>
<text x="1410.12" y="801.25" font-family="'Liberation Serif','Times New Roman',serif" font-size="29.2" fill="#000" text-anchor="start" font-weight="normal">Middle</text>
<rect x="1357.10" y="820.00" width="43.00" height="44.10" fill="#D9D9D9"/>
<text x="1410.38" y="853.30" font-family="'Liberation Serif','Times New Roman',serif" font-size="29.2" fill="#000" text-anchor="start" font-weight="normal">Upper</text>
<text x="12.44" y="35.00" font-family="'Liberation Sans',Arial,sans-serif" font-size="33.5" fill="#000" text-anchor="start" font-weight="bold">A</text>
<text x="765.61" y="35.85" font-family="'Liberation Sans',Arial,sans-serif" font-size="33.5" fill="#000" text-anchor="start" font-weight="bold">B</text>
<text x="11.89" y="703.05" font-family="'Liberation Sans',Arial,sans-serif" font-size="33.5" fill="#000" text-anchor="start" font-weight="bold">C</text>
<text x="766.00" y="702.70" font-family="'Liberation Sans',Arial,sans-serif" font-size="33.5" fill="#000" text-anchor="start" font-weight="bold">D</text>
</svg>
</body></html>
